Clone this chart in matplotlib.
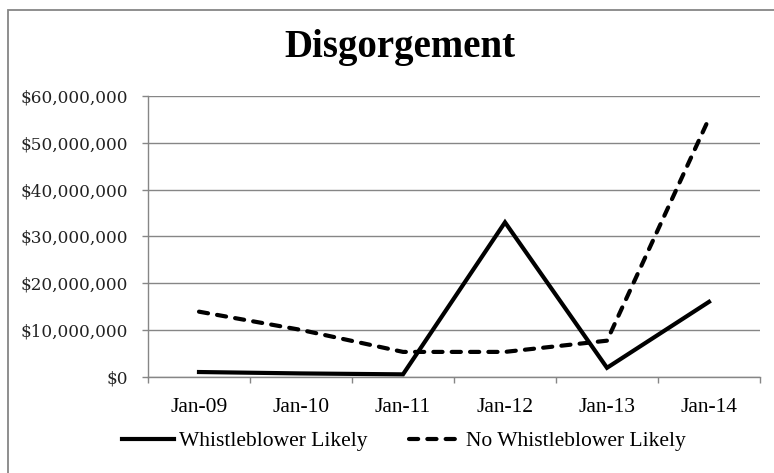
import matplotlib.pyplot as plt
from matplotlib.patches import Rectangle
from matplotlib.ticker import FuncFormatter

months = ['Jan-09', 'Jan-10', 'Jan-11', 'Jan-12', 'Jan-13', 'Jan-14']
whistleblower = [1.0e6, 0.7e6, 0.5e6, 33.0e6, 1.9e6, 16.0e6]
no_whistleblower = [13.9e6, 10.0e6, 5.3e6, 5.3e6, 7.7e6, 55.2e6]
y_ticks = [0, 10e6, 20e6, 30e6, 40e6, 50e6, 60e6]

grey = '#868686'
serif = 'Liberation Serif'

fig = plt.figure(figsize=(7.74, 4.73), dpi=100)
fig.patches.append(Rectangle((8 / 774, -0.1), 1.2, 1 - 10 / 473 + 0.1,
                             transform=fig.transFigure, fill=False,
                             edgecolor=grey, linewidth=1.3))

ax = fig.add_axes([148 / 774, 1 - 376.7 / 473, 612 / 774, (376.7 - 96) / 473])
x = list(range(len(months)))
ax.plot(x, whistleblower, color='black', lw=3, solid_joinstyle='miter',
        label='Whistleblower Likely')
ax.plot(x, no_whistleblower, color='black', lw=3, linestyle=(0, (2.2, 2.2)),
        dash_capstyle='round', label='No Whistleblower Likely')

ax.set_xlim(-0.5, len(months) - 0.5)
ax.set_ylim(0, 60e6)
ax.set_yticks(y_ticks)
ax.yaxis.set_major_formatter(FuncFormatter(lambda v, p: '${:,.0f}'.format(v)))
ax.set_xticks(x)
ax.set_xticklabels(months, fontsize=15.5, family=serif)
ax.set_xticks([i - 0.5 for i in range(len(months) + 1)], minor=True)
ax.tick_params(axis='x', which='major', length=0, pad=15)
ax.tick_params(axis='x', which='minor', length=4.5, color=grey, width=1)
ax.tick_params(axis='y', length=4.5, color=grey, width=1, pad=10)
for lbl in ax.get_yticklabels():
    lbl.set_family('DejaVu Serif')
    lbl.set_fontsize(12.2)
    lbl.set_color('#222222')

ax.grid(axis='y', color=grey, lw=1)
ax.set_axisbelow(True)
for side in ['top', 'right']:
    ax.spines[side].set_visible(False)
for side in ['left', 'bottom']:
    ax.spines[side].set_color(grey)
    ax.spines[side].set_linewidth(1)

fig.text(0.517, 1 - 48 / 473, 'Disgorgement', ha='center', va='center',
         fontsize=28, fontweight='bold', family=serif)

fig.legend(loc='center', bbox_to_anchor=(404 / 774, 1 - 441 / 473), ncol=2,
           frameon=False, prop={'family': serif, 'size': 15.5},
           handlelength=2.4, handletextpad=0.25, columnspacing=1.9)

fig.savefig('out.png', dpi=100)
